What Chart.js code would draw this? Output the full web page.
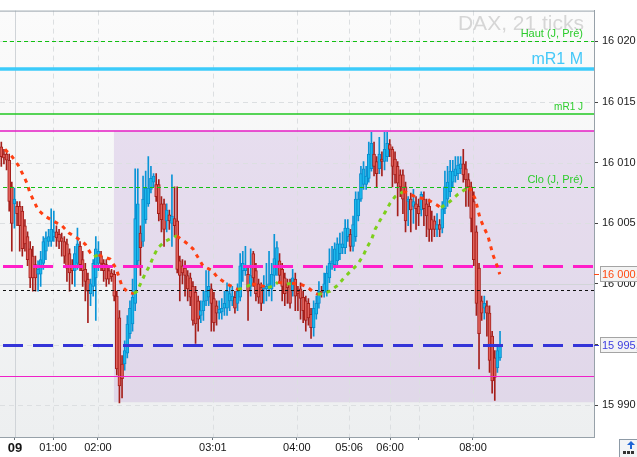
<!DOCTYPE html>
<html>
<head>
<meta charset="utf-8">
<script src="https://cdn.jsdelivr.net/npm/chart.js@4.4.0/dist/chart.umd.min.js"></script>
<style>
  html, body { margin: 0; padding: 0; background: #fff; }
  #wrap { width: 637px; height: 457px; }
</style>
</head>
<body>
<div id="wrap"><canvas id="daxChart"></canvas></div>
<script>
// DAX, 21 ticks bars (open / high / low / close)
const openP = [
  16011.3, 16010.7, 16010.7, 16010.2, 16008.0, 16006.6, 16006.4, 16006.4, 16006.0, 16004.8,
  16003.9, 16002.9, 16002.3, 16001.6, 16000.8, 16000.8, 16001.7, 16002.7, 16003.5, 16003.5,
  16003.9, 16004.3, 16004.1, 16003.8, 16003.5, 16003.3, 16002.5, 16001.5, 16001.1, 16001.7,
  16003.1, 16002.0, 16001.2, 16000.4, 15999.2, 15999.8, 16000.5, 16001.7, 16002.3, 16001.7,
  16001.6, 16001.1, 16000.9, 16000.8, 15999.0, 15997.2, 15993.4, 15993.4, 15994.3, 15995.9,
  15996.7, 15998.4, 16001.9, 16004.2, 16003.5, 16005.3, 16006.6, 16007.8, 16008.4, 16008.2,
  16008.2, 16006.6, 16006.6, 16005.2, 16005.7, 16005.0, 16005.4, 16005.2, 16001.9, 16001.5,
  16001.3, 16000.7, 16000.5, 15999.8, 15999.3, 15998.6, 15997.4, 15997.8, 15998.6, 15998.9,
  15999.6, 15998.8, 15998.2, 15997.6, 15997.7, 15998.0, 15998.0, 15998.6, 15998.6, 15998.9,
  15998.4, 15998.9, 16001.1, 16001.1, 16000.8, 15999.8, 16002.5, 16001.1, 16000.0, 15999.7,
  15999.6, 15999.6, 15999.8, 15999.6, 16000.7, 16001.5, 16001.9, 16001.2, 16000.5, 16000.0,
  16000.0, 15999.4, 16000.4, 15999.4, 15999.6, 15998.9, 15998.6, 15998.4, 15997.5, 15996.4,
  15997.5, 15998.4, 15999.4, 15999.3, 15999.4, 16000.5, 16001.7, 16001.6, 16001.9, 16002.5,
  16003.0, 16003.0, 16003.9, 16004.1, 16003.1, 16003.9, 16005.6, 16007.0, 16008.2, 16008.2,
  16008.7, 16009.5, 16010.7, 16010.1, 16009.5, 16010.3, 16010.1, 16010.5, 16011.5, 16011.1,
  16010.3, 16009.7, 16009.0, 16009.0, 16008.0, 16006.8, 16007.0, 16006.4, 16006.6, 16006.4,
  16006.1, 16007.0, 16006.6, 16006.4, 16005.3, 16005.2, 16004.5, 16004.9, 16004.6, 16006.2,
  16007.0, 16007.6, 16008.4, 16008.9, 16009.1, 16009.5, 16009.9, 16009.5, 16008.6, 16008.0,
  16006.8, 16004.3, 16001.3, 15998.6, 15998.0, 15998.2, 15997.6, 15995.7, 15993.9, 15993.1, 15993.9
];
const highP = [
  16011.7, 16011.1, 16010.9, 16010.7, 16008.4, 16007.9, 16006.8, 16006.8, 16006.4, 16005.3,
  16004.3, 16003.5, 16003.1, 16002.3, 16001.9, 16002.7, 16003.9, 16004.3, 16004.5, 16006.2,
  16006.0, 16004.8, 16004.5, 16004.2, 16003.9, 16003.7, 16002.9, 16002.0, 16003.1, 16004.6,
  16003.5, 16002.7, 16001.7, 16000.9, 16000.4, 16002.0, 16003.9, 16003.5, 16002.7, 16002.0,
  16002.0, 16001.5, 16001.2, 16001.1, 15999.4, 15997.8, 15994.1, 15995.3, 15997.4, 15998.6,
  16000.4, 16009.5, 16009.5, 16004.8, 16008.9, 16009.3, 16010.5, 16009.7, 16009.1, 16009.1,
  16008.6, 16007.2, 16007.0, 16006.6, 16006.1, 16009.0, 16008.0, 16008.0, 16002.3, 16002.0,
  16001.9, 16001.1, 16000.9, 16000.2, 15999.8, 15999.0, 15998.6, 15999.4, 16001.1, 16001.1,
  16000.0, 15999.3, 15998.6, 15998.6, 15998.8, 15999.4, 16000.1, 15999.8, 15999.8, 15999.4,
  16000.0, 16002.5, 16002.7, 16003.1, 16001.5, 16002.9, 16002.7, 16001.7, 16000.4, 16000.1,
  16000.7, 16001.7, 16002.7, 16001.7, 16004.1, 16003.5, 16002.5, 16001.7, 16000.9, 16000.4,
  16000.4, 16001.2, 16000.9, 15999.8, 16000.1, 15999.4, 15999.0, 15998.8, 15998.0, 15998.6,
  15999.0, 16000.2, 15999.8, 16000.9, 16001.5, 16002.9, 16003.1, 16003.4, 16003.8, 16004.2,
  16004.3, 16005.3, 16005.3, 16004.5, 16005.6, 16007.6, 16007.6, 16009.7, 16010.1, 16009.7,
  16011.7, 16012.5, 16011.7, 16010.5, 16012.1, 16010.9, 16012.5, 16012.5, 16011.9, 16011.3,
  16010.9, 16010.1, 16009.4, 16009.4, 16008.4, 16007.2, 16007.5, 16007.8, 16007.2, 16007.0,
  16007.6, 16007.6, 16007.0, 16007.0, 16006.0, 16005.6, 16005.8, 16005.3, 16006.8, 16009.3,
  16009.7, 16010.2, 16010.2, 16010.5, 16010.5, 16010.5, 16011.1, 16010.1, 16009.1, 16008.4,
  16007.6, 16004.8, 16001.7, 15999.0, 15999.0, 15998.6, 15998.2, 15996.1, 15994.5, 15994.9, 15996.1
];
const lowP = [
  16009.7, 16009.9, 16009.4, 16006.0, 16002.7, 16004.6, 16004.8, 16002.7, 16002.3, 16002.7,
  16001.5, 15999.7, 15999.4, 15999.4, 15999.4, 15999.8, 16001.2, 16002.0, 16003.1, 16003.1,
  16003.5, 16003.1, 16002.9, 16002.3, 16001.7, 16000.2, 15999.4, 16000.0, 15999.8, 16001.2,
  16001.1, 15999.8, 15998.6, 15996.8, 15998.2, 15999.0, 15997.0, 16001.1, 16001.1, 16000.2,
  15999.8, 16000.0, 16000.2, 15998.6, 15992.5, 15990.2, 15990.6, 15992.9, 15993.9, 15995.5,
  15996.1, 15997.8, 16001.5, 16000.7, 16003.1, 16005.0, 16006.4, 16007.5, 16008.0, 16006.8,
  16005.2, 16004.3, 16003.1, 16004.3, 16004.5, 16003.1, 16003.9, 16000.9, 15998.6, 16000.0,
  15999.0, 15998.6, 15998.2, 15996.6, 15995.1, 15996.1, 15996.8, 15997.0, 15998.2, 15998.2,
  15996.1, 15996.1, 15996.6, 15997.1, 15997.1, 15997.4, 15997.4, 15997.8, 15998.2, 15997.6,
  15997.8, 15998.6, 16000.2, 16000.7, 15997.0, 15999.0, 15999.8, 15998.6, 15998.4, 15997.8,
  15998.4, 15998.6, 15999.0, 15998.6, 15999.8, 16000.7, 16000.1, 15998.6, 15998.2, 15998.4,
  15998.0, 15999.0, 15997.8, 15997.8, 15997.1, 15996.8, 15996.1, 15996.6, 15995.5, 15995.7,
  15997.1, 15998.0, 15998.9, 15998.9, 15999.0, 16000.1, 16001.2, 16001.1, 16001.5, 16002.0,
  16002.5, 16002.5, 16003.5, 16002.7, 16002.7, 16003.5, 16005.2, 16006.8, 16007.8, 16007.8,
  16008.4, 16009.3, 16008.9, 16008.0, 16009.1, 16008.9, 16009.4, 16010.1, 16010.5, 16008.0,
  16008.3, 16005.6, 16007.2, 16005.8, 16004.3, 16004.8, 16004.3, 16005.0, 16004.5, 16004.8,
  16005.6, 16004.8, 16003.9, 16003.5, 16003.5, 16003.9, 16003.9, 16003.9, 16004.2, 16005.8,
  16006.4, 16007.2, 16008.0, 16008.4, 16008.6, 16009.1, 16008.4, 16006.4, 16006.4, 16004.3,
  16001.5, 15997.4, 15993.0, 15997.0, 15997.1, 15995.7, 15992.7, 15991.0, 15990.4, 15992.7, 15993.7
];
const closeP = [
  16010.5, 16010.4, 16010.2, 16006.8, 16005.0, 16007.0, 16005.8, 16004.8, 16002.9, 16003.3,
  16002.0, 16000.5, 16000.5, 16000.5, 16001.2, 16002.0, 16003.5, 16003.8, 16003.9, 16004.5,
  16004.3, 16003.8, 16003.5, 16003.5, 16002.3, 16001.3, 16000.9, 16001.1, 16002.5, 16003.3,
  16001.6, 16001.1, 16000.2, 15999.4, 16000.0, 16001.7, 16002.9, 16002.7, 16001.7, 16001.1,
  16000.4, 16000.4, 16000.6, 15999.0, 15993.0, 15991.6, 15992.2, 15994.5, 15996.7, 15998.0,
  15998.9, 16005.4, 16006.6, 16003.0, 16007.0, 16007.9, 16007.9, 16008.7, 16008.9, 16007.2,
  16005.8, 16005.3, 16004.5, 16006.1, 16005.2, 16005.6, 16004.8, 16001.2, 16000.7, 16000.9,
  16000.7, 15999.6, 15998.9, 15997.0, 15996.7, 15997.1, 15997.8, 15998.6, 15999.4, 15999.8,
  15998.4, 15996.8, 15997.6, 15997.9, 15998.0, 15998.4, 15999.4, 15999.2, 15999.0, 15998.0,
  15999.4, 16001.5, 16001.7, 16001.5, 15999.4, 16000.7, 16000.5, 15999.2, 15998.9, 15998.4,
  15999.8, 15999.8, 16000.0, 16000.8, 16002.1, 16003.0, 16000.7, 15999.8, 15999.2, 15999.7,
  15998.4, 16000.5, 15999.0, 15999.2, 15998.8, 15997.8, 15997.0, 15997.2, 15996.4, 15998.0,
  15998.4, 15999.4, 15999.3, 16000.0, 16000.9, 16001.7, 16001.9, 16002.9, 16003.3, 16003.3,
  16003.3, 16004.6, 16004.6, 16003.1, 16004.9, 16007.0, 16007.0, 16009.1, 16009.5, 16008.9,
  16010.7, 16011.6, 16009.7, 16009.1, 16010.7, 16010.1, 16011.1, 16011.6, 16011.1, 16009.7,
  16009.0, 16008.3, 16008.0, 16007.0, 16005.2, 16007.0, 16006.1, 16006.8, 16006.2, 16005.8,
  16007.4, 16006.2, 16005.6, 16004.5, 16004.5, 16004.5, 16004.9, 16004.5, 16006.2, 16008.0,
  16008.4, 16009.3, 16009.3, 16009.5, 16009.8, 16009.9, 16009.0, 16008.6, 16008.0, 16005.4,
  16002.0, 15998.4, 15995.9, 15997.6, 15998.4, 15997.6, 15993.7, 15992.0, 15992.3, 15994.5, 15994.9
];

// moving average (bar index, value)
const maX = [
  1.4, 4.1, 6.4, 8.3, 9.8, 10.9, 12.5, 14.0, 16.6, 19.7, 23.1, 25.8, 28.8, 31.9, 33.8,
  35.3, 37.0, 38.8, 41.4, 43.7, 46.0, 48.3, 50.5, 51.7, 54.7, 56.7, 57.8, 59.7, 62.4, 65.4,
  66.9, 70.4, 73.0, 74.9, 76.8, 80.3, 82.5, 86.0, 89.0, 90.2, 92.8, 95.5, 98.5, 101.6, 103.9,
  105.4, 108.8, 110.7, 113.8, 116.5, 119.5, 120.6, 122.6, 125.2, 127.9, 130.2, 132.8, 135.5, 137.8, 139.3,
  141.2, 142.4, 144.3, 146.2, 148.1, 150.0, 153.0, 154.5, 157.6, 160.6, 162.5, 166.0, 167.5, 170.9, 174.0,
  177.0, 178.2, 180.5, 182.4, 183.9, 185.4, 187.3, 188.8, 189.9
];
const maY = [
  16011.1, 16010.5, 16009.8, 16009.0, 16008.3, 16007.5, 16006.8, 16006.1, 16005.6, 16005.2, 16004.8, 16004.2, 16003.8, 16003.3, 16002.6,
  16002.25, 16002.4, 16002.25, 16002.05, 16001.3, 15999.8, 15999.3, 15999.2, 15999.4, 16000.8, 16001.6, 16002.2, 16003.0, 16003.5, 16003.85,
  16003.95, 16003.4, 16002.9, 16002.2, 16001.5, 16001.1, 16000.5, 16000.0, 15999.65, 15999.55, 15999.7, 16000.0, 15999.9, 15999.7, 15999.85,
  16000.15, 16000.0, 16000.05, 16000.0, 15999.75, 15999.25, 15999.15, 15999.2, 15999.4, 15999.85, 16000.4, 16001.0, 16001.55, 16002.3, 16003.0,
  16003.75, 16004.5, 16005.25, 16005.9, 16006.65, 16007.2, 16007.6, 16007.55, 16007.2, 16007.05, 16006.95, 16006.5, 16006.3, 16006.8, 16007.4,
  16007.85, 16007.95, 16007.05, 16005.4, 16004.65, 16003.95, 16002.4, 16001.55, 16000.8
];

// horizontal levels
const levelPrices = [16020.0, 16017.7, 16014.0, 16012.6, 16008.0, 16001.5, 15999.5, 15995.0, 15992.4];
const levelNames = ["Haut (J, Pré)", "mR1 M", "mR1 J", "", "Clo (J, Pré)", "", "", "", ""];

// session zone: first bar index, top, bottom
const zoneStart = 42.9;
const zoneTop = 16012.6;
const zoneBottom = 15990.25;

// axes
const priceTicks = [15990, 15995, 16000, 16005, 16010, 16015, 16020];
const timeTicks = [5.2, 19.7, 36.8, 80.6, 112.6, 132.5, 148.1, 159.1, 179.7];
const timeLabels = ["09", "01:00", "02:00", "03:01", "04:00", "05:06", "06:00", "", "08:00"];

const FONT = "'Liberation Sans', Arial, sans-serif";
const UP_FILL = "#1cb8ec", UP_LINE = "#0a8ccc";
const DN_FILL = "#e0625c", DN_LINE = "#a51f1b";
const MA_UP = "#7dcf1c", MA_DN = "#ff3f12";

// one style per level, same order as levelPrices
const levelStyles = [
  { color: "#12c012", width: 1, dash: [4, 3], font: 11, text: "#2ccc2c" },
  { color: "#3ccbfa", width: 3.5, dash: [], font: 16, text: "#44c8f8" },
  { color: "#20c820", width: 1.5, dash: [], font: 10, text: "#2ccc2c" },
  { color: "#e41cc4", width: 1.5, dash: [] },
  { color: "#12c012", width: 1, dash: [4, 3], font: 11, text: "#2ccc2c" },
  { color: "#ff1ec8", width: 3, dash: [20, 10] },
  { color: "#111111", width: 1, dash: [3, 3] },
  { color: "#3434d8", width: 3, dash: [20, 10] },
  { color: "#f020c8", width: 1, dash: [] }
];

function fmtPrice(v, dec) {
  const s = v.toFixed(dec || 0).replace(".", ",");
  return s.replace(/^(\d+)(\d{3})/, "$1 $2");
}

function isUp(i) {
  return closeP[i] >= openP[i];
}

const bars = closeP.map((c, i) => i);
const wickData = bars.map(i => ({ x: i, y: [lowP[i], highP[i]] }));
const bodyData = bars.map(i => ({ x: i, y: [openP[i], closeP[i]] }));
const maData = maX.map((x, k) => ({ x: x, y: maY[k] }));

function hline(ctx, x0, x1, y, st) {
  ctx.save();
  ctx.strokeStyle = st.color;
  ctx.lineWidth = st.width;
  ctx.setLineDash(st.dash);
  ctx.lineDashOffset = -3;
  const yy = st.width % 2 === 1 ? Math.round(y) + 0.5 : Math.round(y);
  ctx.beginPath();
  ctx.moveTo(x0, yy);
  ctx.lineTo(x1, yy);
  ctx.stroke();
  ctx.restore();
}

const overlay = {
  id: "overlay",
  beforeDraw(chart) {
    const { ctx, chartArea: a, scales } = chart;
    const xs = scales.x, ys = scales.y;
    ctx.save();
    ctx.fillStyle = "#ffffff";
    ctx.fillRect(0, 0, chart.width, chart.height);
    const g = ctx.createLinearGradient(0, a.top, 0, a.bottom);
    g.addColorStop(0, "#fbfbfb");
    g.addColorStop(1, "#edeff0");
    ctx.fillStyle = g;
    ctx.fillRect(a.left, a.top, a.right - a.left, a.bottom - a.top);

    // session zone
    const zx = xs.getPixelForValue(zoneStart);
    const zt = ys.getPixelForValue(zoneTop);
    const zb = ys.getPixelForValue(zoneBottom);
    ctx.fillStyle = "rgba(186,146,214,0.26)";
    ctx.fillRect(zx, zt, a.right - zx, zb - zt);

    // grid
    ctx.lineWidth = 1;
    ys.ticks.forEach(t => {
      const y = Math.round(ys.getPixelForValue(t.value)) + 0.5;
      ctx.setLineDash(t.value === 16000 ? [] : [5, 4]);
      ctx.strokeStyle = t.value === 16000 ? "#d2d5d8" : "#dcdfe1";
      ctx.beginPath();
      ctx.moveTo(a.left, y);
      ctx.lineTo(a.right, y);
      ctx.stroke();
    });
    xs.ticks.forEach((t, i) => {
      const x = Math.round(xs.getPixelForValue(t.value)) + 0.5;
      ctx.setLineDash(i === 0 ? [] : [5, 4]);
      ctx.strokeStyle = i === 0 ? "#d0d4d8" : "#dcdfe1";
      ctx.beginPath();
      ctx.moveTo(x, a.top);
      ctx.lineTo(x, a.bottom);
      ctx.stroke();
    });
    ctx.restore();
  },
  beforeDatasetDraw(chart, args) {
    if (args.meta.type !== "line") return;
    const { ctx, chartArea: a, scales } = chart;
    ctx.save();
    ctx.beginPath();
    ctx.rect(a.left, a.top, a.right - a.left, a.bottom - a.top);
    ctx.clip();
    levelPrices.forEach((p, k) => {
      hline(ctx, a.left, a.right, scales.y.getPixelForValue(p), levelStyles[k]);
    });
    ctx.restore();
  },
  afterDraw(chart) {
    const { ctx, chartArea: a, scales } = chart;
    const ys = scales.y;
    ctx.save();

    // frame top
    ctx.strokeStyle = "#9aa5ad";
    ctx.lineWidth = 1;
    ctx.beginPath();
    ctx.moveTo(0, a.top + 0.5);
    ctx.lineTo(a.right, a.top + 0.5);
    ctx.stroke();

    // title
    ctx.fillStyle = "#d6d6d6";
    ctx.font = "21px " + FONT;
    ctx.textAlign = "right";
    ctx.textBaseline = "alphabetic";
    ctx.fillText("DAX, 21 ticks", a.right - 10, 30);

    // level names
    levelNames.forEach((name, k) => {
      if (!name) return;
      const st = levelStyles[k];
      const y = ys.getPixelForValue(levelPrices[k]);
      ctx.font = st.font + "px " + FONT;
      ctx.fillStyle = st.text;
      ctx.fillText(name, a.right - 11, y - (st.font > 12 ? 5 : 4));
    });

    // price boxes on the axis
    const boxes = [
      { v: maY[maY.length - 1], color: "#ff4a12" },
      { v: levelPrices[7], color: "#3c3ce0" }
    ];
    boxes.forEach(b => {
      const y = Math.round(ys.getPixelForValue(b.v));
      ctx.fillStyle = "#f3f3f3";
      ctx.fillRect(a.right + 6, y - 7, 50, 14);
      ctx.strokeStyle = "#a4a4a4";
      ctx.lineWidth = 1;
      ctx.strokeRect(a.right + 6.5, y - 7.5, 50, 15);
      ctx.strokeStyle = b.color;
      ctx.beginPath();
      ctx.moveTo(a.right, y + 0.5);
      ctx.lineTo(a.right + 5, y + 0.5);
      ctx.stroke();
      ctx.fillStyle = b.color;
      ctx.font = "11px " + FONT;
      ctx.textAlign = "left";
      ctx.textBaseline = "middle";
      ctx.fillText(fmtPrice(b.v, 1), a.right + 8, y + 1);
    });

    // little scroll button bottom right
    ctx.fillStyle = "#f2f4f6";
    ctx.fillRect(619, 439, 20, 19);
    ctx.strokeStyle = "#8d9aa6";
    ctx.strokeRect(619.5, 439.5, 20, 19);
    ctx.fillStyle = "#1e64d4";
    ctx.beginPath();
    ctx.moveTo(631, 441);
    ctx.lineTo(635, 445);
    ctx.lineTo(627, 445);
    ctx.closePath();
    ctx.fill();
    ctx.fillRect(630, 445, 2, 4);
    ctx.fillStyle = "#333";
    for (let i = 0; i < 3; i++) ctx.fillRect(623 + i * 4, 451, 3, 3);
    ctx.restore();
  }
};

Chart.defaults.font.family = FONT;

new Chart(document.getElementById("daxChart"), {
  type: "bar",
  data: {
    datasets: [
      {
        type: "line",
        data: maData,
        order: 0,
        borderColor: MA_DN,
        borderWidth: 3,
        borderDash: [4, 5],
        borderCapStyle: "butt",
        pointRadius: 0,
        tension: 0,
        fill: false,
        segment: {
          borderColor: c => (c.p1.parsed.y >= c.p0.parsed.y ? MA_UP : MA_DN)
        }
      },
      {
        data: bodyData,
        order: 1,
        grouped: false,
        barThickness: 3,
        minBarLength: 1,
        borderWidth: 1,
        borderSkipped: false,
        backgroundColor: c => (isUp(c.dataIndex) ? UP_FILL : DN_FILL),
        borderColor: c => (isUp(c.dataIndex) ? UP_LINE : DN_LINE)
      },
      {
        data: wickData,
        order: 2,
        grouped: false,
        barThickness: 1,
        borderWidth: 0,
        backgroundColor: c => (isUp(c.dataIndex) ? "#0a94d6" : DN_LINE)
      }
    ]
  },
  options: {
    responsive: true,
    maintainAspectRatio: false,
    animation: false,
    events: [],
    layout: { padding: { top: 8, left: 0, right: 0, bottom: 0 } },
    plugins: {
      legend: { display: false },
      tooltip: { enabled: false }
    },
    scales: {
      x: {
        type: "linear",
        min: -0.5,
        max: 225.8,
        offset: false,
        bounds: "data",
        afterFit: s => { s.height = 20; },
        afterBuildTicks: s => { s.ticks = timeTicks.map(v => ({ value: v })); },
        ticks: {
          autoSkip: false,
          maxRotation: 0,
          padding: 1,
          color: "#141414",
          font: c => (c.index === 0 ? { size: 13, weight: "bold" } : { size: 11 }),
          callback: (v, i) => timeLabels[i]
        },
        grid: { drawOnChartArea: false, drawTicks: true, tickLength: 3, color: "#6c747a", offset: false },
        border: { color: "#97a1a9" }
      },
      y: {
        type: "linear",
        position: "right",
        min: 15987.38,
        max: 16022.54,
        bounds: "data",
        afterFit: s => { s.width = 43; },
        afterBuildTicks: s => { s.ticks = priceTicks.map(v => ({ value: v })); },
        ticks: {
          autoSkip: false,
          padding: 4,
          color: "#1a1a1a",
          font: { size: 11 },
          callback: v => fmtPrice(v, 0)
        },
        grid: { drawOnChartArea: false, drawTicks: true, tickLength: 4, color: "#444" },
        border: { color: "#97a1a9" }
      }
    }
  },
  plugins: [overlay]
});
</script>
</body>
</html>
